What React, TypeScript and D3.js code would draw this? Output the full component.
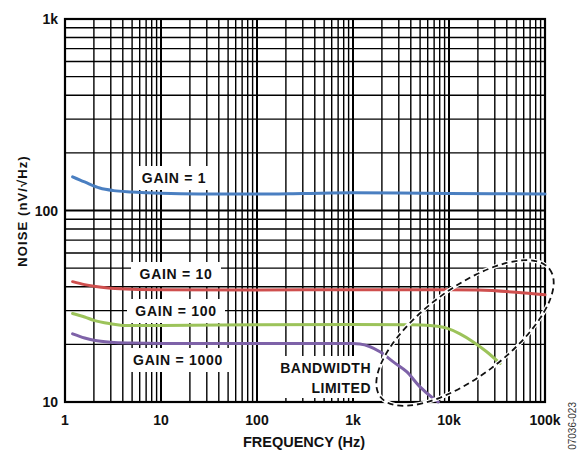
import React from "react";
import * as d3 from "d3";

const xTicks = [1, 10, 100, 1000, 10000, 100000];
const xTickLabels = ["1", "10", "100", "1k", "10k", "100k"];
const yTicks = [10, 100, 1000];
const yTickLabels = ["10", "100", "1k"];

const gain1Freq = [1.2, 1.6, 2.3, 3.2, 5, 10, 25, 100, 300, 1000, 3000, 10000, 30000, 100000];
const gain1Noise = [150, 141, 131, 127, 125, 123, 122, 122, 122.8, 123.8, 123.5, 122.6, 122.2, 122];

const gain10Freq = [1.2, 1.6, 2, 3, 5, 10, 100, 1000, 10000, 20000, 50000, 100000];
const gain10Noise = [42.5, 41, 40.2, 39.3, 38.8, 38.6, 38.5, 38.6, 38.6, 38.4, 37.4, 36.3];

const gain100Freq = [1.2, 1.6, 2, 3, 4, 10, 100, 1000, 4000, 6340, 9460, 13000, 17900, 24700, 34000];
const gain100Noise = [29, 27.8, 26.7, 25.6, 25.1, 25.1, 25.3, 25.4, 25.3, 25.1, 24.3, 22.7, 20.6, 18.3, 15.9];

const gain1000Freq = [1.2, 1.6, 2, 3, 5, 10, 100, 1000, 1180, 1910, 2630, 3620, 4990, 6860, 7740];
const gain1000Noise = [22.7, 21.6, 21, 20.5, 20.3, 20.2, 20.2, 20.2, 20.1, 18.3, 16.2, 14.4, 12.0, 10.45, 10];

const seriesColors = ["#4a7fc1", "#cf4f4e", "#9cc35a", "#7e62a8"];

const W = 580;
const H = 450;
const L = 65, R = 545, T = 19, B = 402;

export default function App() {
  const x = d3.scaleLog().domain([1, 100000]).range([L, R]);
  const y = d3.scaleLog().domain([10, 1000]).range([B, T]);

  const vLines: { v: number; major: boolean }[] = [];
  for (let dec = 1; dec <= 100000; dec *= 10) {
    for (let m = 1; m <= 9; m++) {
      const v = dec * m;
      if (v > 100000) break;
      vLines.push({ v, major: m === 1 });
    }
  }
  const hLines: { v: number; major: boolean }[] = [];
  for (let dec = 10; dec <= 1000; dec *= 10) {
    for (let m = 1; m <= 9; m++) {
      const v = dec * m;
      if (v > 1000) break;
      hLines.push({ v, major: m === 1 });
    }
  }

  const line = d3
    .line<[number, number]>()
    .x((d) => x(d[0]))
    .y((d) => y(d[1]))
    .curve(d3.curveMonotoneX);

  const series = [
    [gain1Freq, gain1Noise],
    [gain10Freq, gain10Noise],
    [gain100Freq, gain100Noise],
    [gain1000Freq, gain1000Noise],
  ].map(([f, n]) => f.map((fv, i) => [fv, n[i]] as [number, number]));

  const labels = [
    { text: "GAIN = 1", cx: 174, cy: 178, w: 78 },
    { text: "GAIN = 10", cx: 176, cy: 274, w: 90 },
    { text: "GAIN = 100", cx: 176, cy: 311, w: 98 },
    { text: "GAIN = 1000", cx: 178, cy: 360, w: 104 },
  ];

  const font = "'Liberation Sans', Arial, sans-serif";

  const ecx = 465, ecy = 333, ea = 106, eb = 44, eang = -37;

  return (
    <svg
      width={W}
      height={H}
      style={{ position: "absolute", left: 0, top: 0, background: "#fff" }}
      fontFamily={font}
      fontWeight="bold"
    >
      <rect x={0} y={0} width={W} height={H} fill="#fff" />
      {hLines.map((l, i) => (
        <line
          key={"h" + i}
          x1={L}
          x2={R}
          y1={y(l.v)}
          y2={y(l.v)}
          stroke="#000"
          strokeWidth={l.major ? 2 : 1.4}
        />
      ))}
      {vLines.map((l, i) => (
        <line
          key={"v" + i}
          x1={x(l.v)}
          x2={x(l.v)}
          y1={T}
          y2={B}
          stroke="#000"
          strokeWidth={l.major ? 2 : 1.4}
        />
      ))}
      <rect x={L} y={T} width={R - L} height={B - T} fill="none" stroke="#000" strokeWidth={2.2} />

      {labels.map((lb, i) => (
        <g key={"lb" + i}>
          <rect x={lb.cx - lb.w / 2} y={lb.cy - 12} width={lb.w} height={24} fill="#fff" />
          <text
            x={lb.cx}
            y={lb.cy}
            textAnchor="middle"
            dominantBaseline="central"
            fontSize={14}
            letterSpacing={0.7}
            fill="#111"
          >
            {lb.text}
          </text>
        </g>
      ))}

      <rect x={268} y={356} width={106} height={42} fill="#fff" />
      <text x={371} y={368} textAnchor="end" dominantBaseline="central" fontSize={14} letterSpacing={0.5} fill="#111">
        BANDWIDTH
      </text>
      <text x={371} y={388} textAnchor="end" dominantBaseline="central" fontSize={14} letterSpacing={0.5} fill="#111">
        LIMITED
      </text>

      {series.map((s, i) => (
        <path key={"s" + i} d={line(s) || ""} fill="none" stroke={seriesColors[i]} strokeWidth={3} strokeLinecap="round" />
      ))}

      <g transform={`translate(${ecx},${ecy}) rotate(${eang})`}>
        <ellipse cx={0} cy={0} rx={ea} ry={eb} fill="none" stroke="#fff" strokeWidth={4} />
        <ellipse cx={0} cy={0} rx={ea} ry={eb} fill="none" stroke="#111" strokeWidth={1.8} strokeDasharray="6,4" />
      </g>

      {xTicks.map((t, i) => (
        <text key={"xt" + i} x={x(t)} y={425} textAnchor="middle" fontSize={14} fill="#111">
          {xTickLabels[i]}
        </text>
      ))}
      {yTicks.map((t, i) => (
        <text key={"yt" + i} x={58} y={y(t)} textAnchor="end" dominantBaseline="central" fontSize={14} fill="#111">
          {yTickLabels[i]}
        </text>
      ))}

      <text x={304} y={447} textAnchor="middle" fontSize={14.5} fill="#111">
        FREQUENCY (Hz)
      </text>
      <text
        transform={`translate(22,211) rotate(-90)`}
        textAnchor="middle"
        dominantBaseline="central"
        fontSize={13}
        letterSpacing={1.1}
        fill="#111"
      >
        NOISE (nV/√Hz)
      </text>
      <text
        transform={`translate(576,402) rotate(-90)`}
        textAnchor="end"
        fontSize={10}
        fontWeight="normal"
        fill="#333"
      >
        07036-023
      </text>
    </svg>
  );
}
